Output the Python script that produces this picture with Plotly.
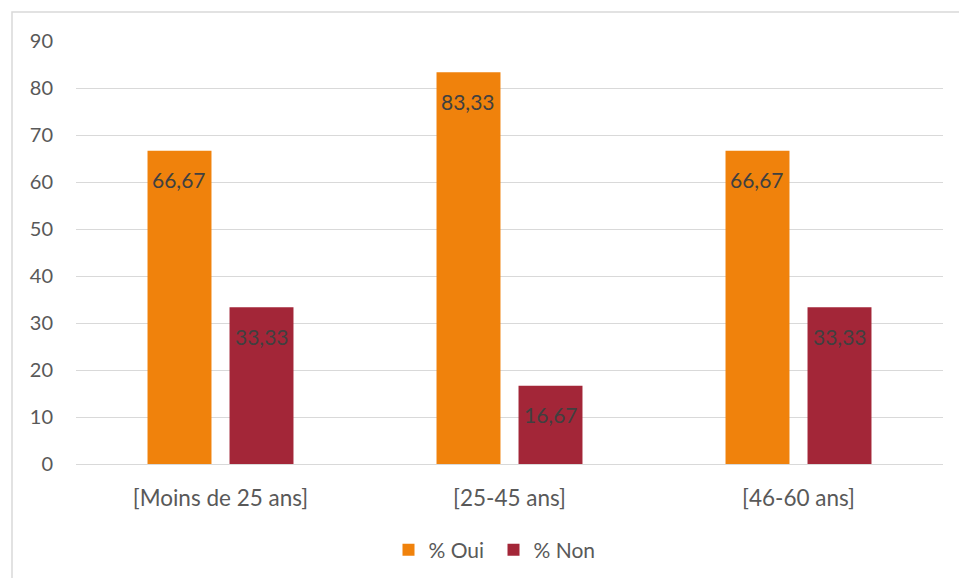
import plotly.graph_objects as go

categories = ["[Moins de 25 ans]", "[25-45 ans]", "[46-60 ans]"]
oui = [66.67, 83.33, 66.67]
non = [33.33, 16.67, 33.33]
y_ticks = [0, 10, 20, 30, 40, 50, 60, 70, 80, 90]

W, H = 959, 578
L, R, T, B = 76, 16, 41, 114
pw, ph = W - L - R, H - T - B

FONT = "Lato, Open Sans, sans-serif"
label_font = dict(family=FONT, size=21, color="#404040")

fig = go.Figure()
fig.add_trace(go.Bar(name="% Oui", x=categories, y=oui, marker_color="#F0820C",
                     marker_line_width=0, offsetgroup="oui"))
fig.add_trace(go.Bar(name="% Non", x=categories, y=non, marker_color="#A32638",
                     marker_line_width=0, offsetgroup="non"))

# value labels sitting just inside the top of each bar
slot = pw / len(categories) * (1 - 0.4325) / 2
for vals, shift in ((oui, -slot / 2), (non, slot / 2)):
    for cat, v in zip(categories, vals):
        fig.add_annotation(x=cat, y=v, text=f"{v:.2f}".replace(".", ","),
                           showarrow=False, xshift=shift, yshift=-29,
                           yanchor="middle", font=label_font)

# outer chart frame
fig.add_shape(type="rect", xref="paper", yref="paper",
              x0=(12 - L) / pw, x1=(W + 20 - L) / pw,
              y0=-(H + 20 - T - ph) / ph, y1=(ph + T - 12) / ph,
              line=dict(color="#D9D9D9", width=1.5), layer="below")

fig.update_layout(
    width=W, height=H,
    margin=dict(l=L, r=R, t=T, b=B, autoexpand=False),
    paper_bgcolor="white", plot_bgcolor="white",
    separators=", ",
    barmode="group", bargap=0.4325, bargroupgap=0.22,
    font=dict(family=FONT, size=20, color="#595959"),
    legend=dict(orientation="h", x=0.5 - 16 / pw, xanchor="center",
                y=(ph - (550 - T)) / ph, yanchor="middle",
                font=dict(family=FONT, size=21, color="#595959"),
                itemwidth=30, entrywidth=60, traceorder="normal"),
)
fig.update_yaxes(range=[0, 90], tickvals=y_ticks, showgrid=True,
                 gridcolor="#D9D9D9", gridwidth=1, zeroline=False,
                 showline=False, ticks="", ticklabelstandoff=22,
                 tickfont=dict(family=FONT, size=20, color="#595959"))
fig.update_xaxes(showgrid=False, showline=True, linecolor="#D9D9D9", linewidth=1,
                 ticks="", ticklabelstandoff=14,
                 tickfont=dict(family=FONT, size=22.5, color="#595959"))

fig.write_html("out.html")
